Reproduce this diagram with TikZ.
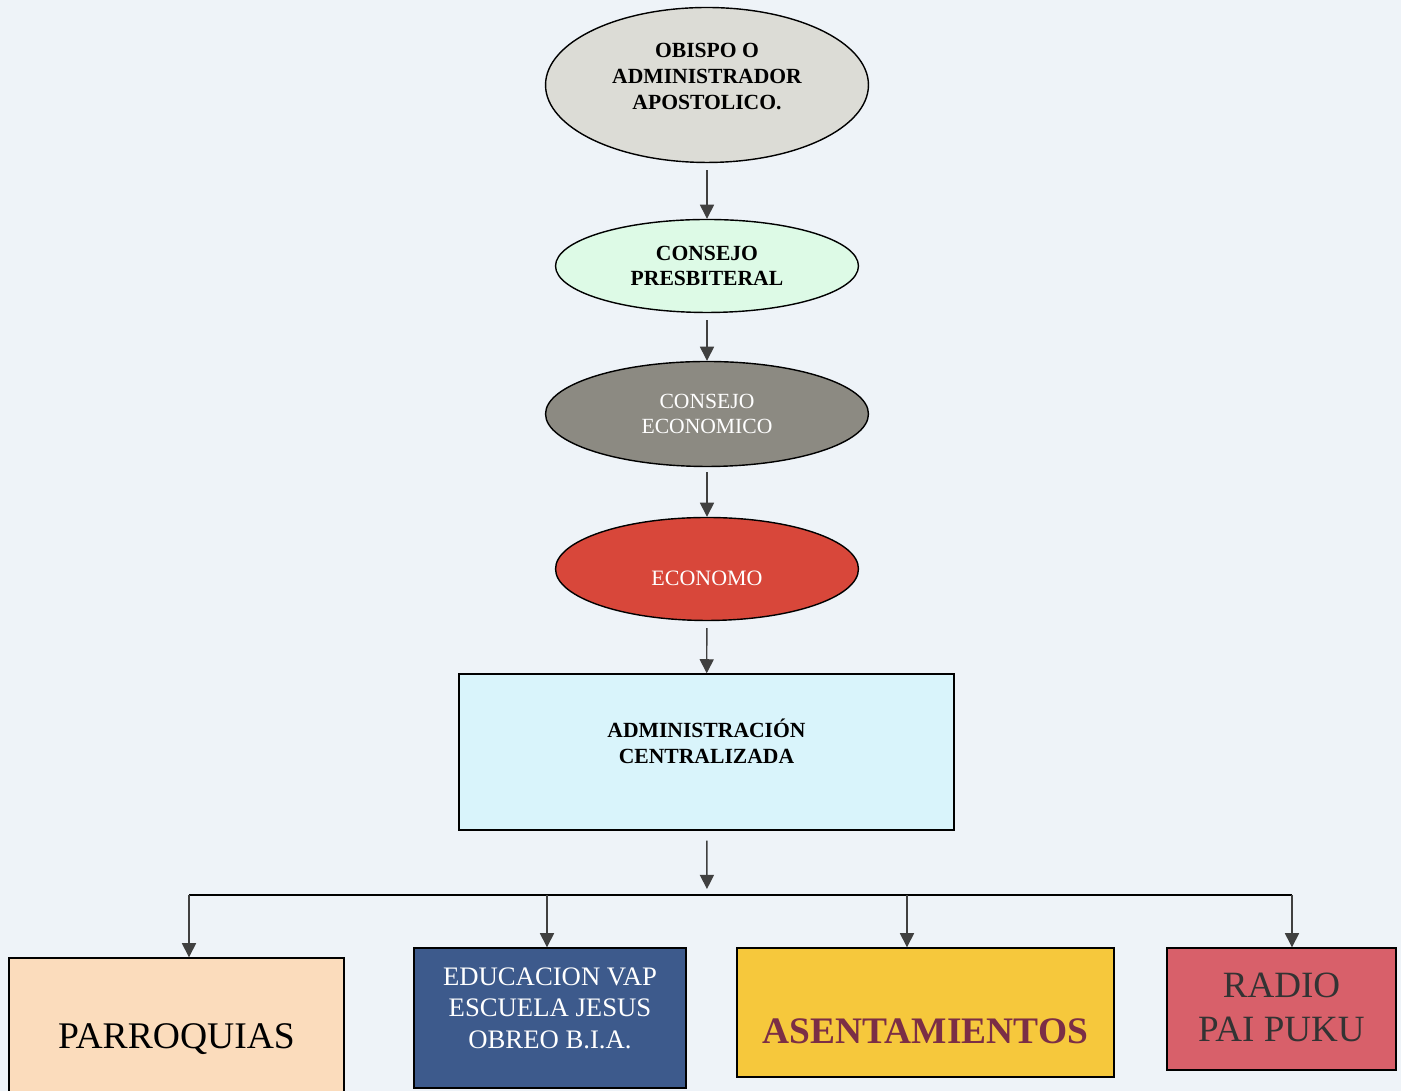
\documentclass[tikz,border=0pt]{standalone}
\usepackage{fontspec}
\setmainfont{Liberation Serif}
\usetikzlibrary{shapes.geometric,arrows.meta}
\definecolor{fondo}{HTML}{EEF3F8}
\definecolor{obispo}{HTML}{DCDCD6}
\definecolor{presbiteral}{HTML}{DDFAE6}
\definecolor{economico}{HTML}{8C8A82}
\definecolor{economo}{HTML}{D8473A}
\definecolor{admin}{HTML}{D9F4FB}
\definecolor{parroquia}{HTML}{FBDCBC}
\definecolor{educacion}{HTML}{3D5A8C}
\definecolor{asent}{HTML}{F6C83C}
\definecolor{asenttxt}{HTML}{7B2E46}
\definecolor{radio}{HTML}{D8606A}
\definecolor{flecha}{HTML}{404040}
\begin{document}
\begin{tikzpicture}[x=0.02cm, y=0.02cm, thick,
	elipse/.style={ellipse, draw=black, inner sep=0pt, align=center,
		font=\bfseries\fontsize{12.3}{14.7}\selectfont},
	caja/.style={rectangle, draw=black, inner sep=0pt, align=center},
	flechita/.style={draw=flecha, -{Triangle[width=8pt,length=8pt]}},
	linea/.style={draw=black}
	]
	\useasboundingbox[fill=fondo] (0,0) rectangle (1401,1091);
	
	\node [elipse, fill=obispo, minimum width=6.46cm, minimum height=3.1cm] (obispo) at (707,1006)
		{OBISPO O\\ADMINISTRADOR\\APOSTOLICO.\\[-4.5pt]};
	\node [elipse, fill=presbiteral, minimum width=6.06cm, minimum height=1.86cm] (consejo) at (707,825)
		{CONSEJO\\PRESBITERAL};
	\node [elipse, fill=economico, minimum width=6.46cm, minimum height=2.1cm, text=white,
		font=\fontsize{12.3}{14.7}\selectfont] (economico) at (707,677)
		{CONSEJO\\ECONOMICO};
	\node [elipse, fill=economo, minimum width=6.06cm, minimum height=2.06cm, text=white,
		font=\fontsize{12.5}{14.7}\selectfont] (economo) at (707,522) {\\[4pt]ECONOMO};
	\node [caja, fill=admin, minimum width=9.9cm, minimum height=3.12cm,
		font=\bfseries\fontsize{12.3}{14.7}\selectfont] (admin) at (706.5,339)
		{ADMINISTRACIÓN\\CENTRALIZADA\\[-2.2pt]};
	
	\node [caja, fill=parroquia, minimum width=6.7cm, minimum height=3.26cm,
		font=\fontsize{21.4}{25}\selectfont] (parroquias) at (176.5,51.5) {PARROQUIAS};
	\node [caja, fill=educacion, minimum width=5.44cm, minimum height=2.8cm, text=white,
		font=\fontsize{15.2}{18.1}\selectfont] (educacion) at (550,73)
		{EDUCACION VAP\\ESCUELA JESUS\\OBREO B.I.A.\\[-6.8pt]};
	\node [caja, fill=asent, minimum width=7.54cm, minimum height=2.58cm, text=asenttxt,
		font=\bfseries\fontsize{21.3}{25}\selectfont] (asentamientos) at (925.5,78.5)
		{\\[0.35cm]ASENTAMIENTOS};
	\node [caja, fill=radio, minimum width=4.58cm, minimum height=2.44cm, text=flecha!80!black,
		font=\fontsize{21.1}{24.9}\selectfont] (radio) at (1281.5,82) {\\[-13pt]RADIO\\PAI PUKU};
	
	\coordinate (bus) at (707,196);
	\coordinate (b1) at (189,196);
	\coordinate (b2) at (547,196);
	\coordinate (b3) at (907,196);
	\coordinate (b4) at (1292,196);
	
	\draw [flechita, shorten <=0.14cm] (obispo) -- (consejo);
	\draw [flechita, shorten <=0.14cm] (consejo) -- (economico);
	\draw [flechita, shorten <=0.1cm] (economico) -- (economo);
	\draw [flechita, shorten <=0.14cm] (economo) -- (admin);
	\draw [flechita, shorten <=0.2cm, shorten >=0.12cm] (admin) -- (bus);
	\draw [linea] (b1) -- (b4);
	\draw [flechita] (b1) -- (b1 |- parroquias.north);
	\draw [flechita] (b2) -- (b2 |- educacion.north);
	\draw [flechita] (b3) -- (b3 |- asentamientos.north);
	\draw [flechita] (b4) -- (b4 |- radio.north);
\end{tikzpicture}
\end{document}
